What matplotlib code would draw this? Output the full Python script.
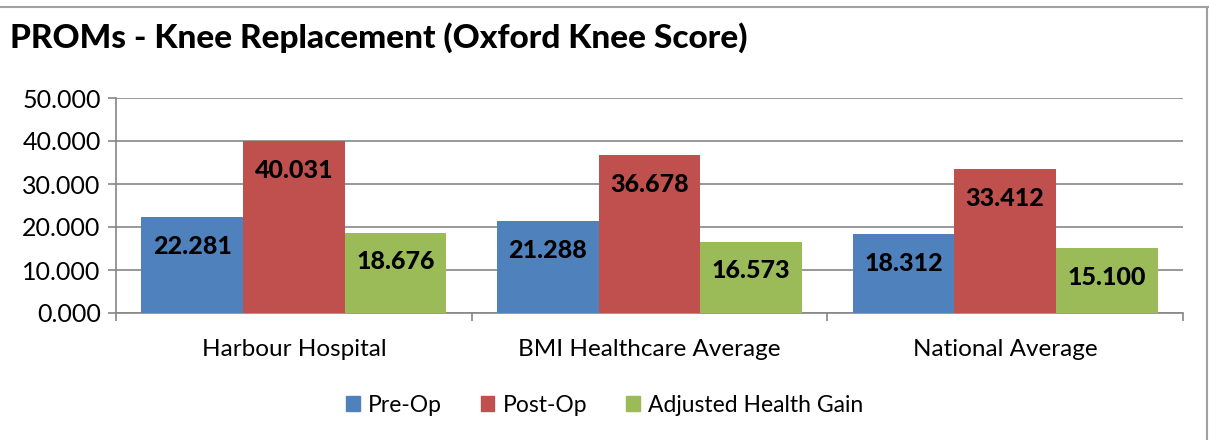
import matplotlib
matplotlib.use("Agg")
import matplotlib.pyplot as plt
import numpy as np
from matplotlib.lines import Line2D

categories = ["Harbour Hospital", "BMI Healthcare Average", "National Average"]
series_names = ["Pre-Op", "Post-Op", "Adjusted Health Gain"]
pre_op = [22.281, 21.288, 18.312]
post_op = [40.031, 36.678, 33.412]
health_gain = [18.676, 16.573, 15.100]
yticks = [0, 10, 20, 30, 40, 50]

colors = ["#4F81BD", "#C0504D", "#9BBB59"]
plt.rcParams['font.family'] = ['Lato', 'DejaVu Sans']

fig = plt.figure(figsize=(12.09, 4.40), dpi=100)
ax = fig.add_axes([116/1209, 1-313/440, (1183-116)/1209, (313-98)/440])

x = np.arange(len(categories))
w = 1/3.5
for i, (vals, name) in enumerate(zip([pre_op, post_op, health_gain], series_names)):
    pos = x + (i-1)*w
    ax.bar(pos, vals, width=w, color=colors[i], label=name, zorder=3)
    for p, v in zip(pos, vals):
        ax.annotate(f"{v:.3f}", (p, v), xytext=(0, -21), textcoords="offset points",
                    ha="center", va="center", fontsize=18, fontweight=900, color="black", zorder=4)

ax.set_xlim(-0.5, 2.5)
ax.set_ylim(0, 50)
ax.set_yticks(yticks)
ax.set_yticklabels([f"{t:.3f}" for t in yticks], fontsize=18)
ax.yaxis.grid(True, color="#868686", linewidth=1.2, zorder=0)
ax.set_xticks([-0.5, 0.5, 1.5, 2.5])
ax.set_xticklabels([])
ax.set_xticks(x, minor=True)
ax.set_xticklabels(categories, minor=True, fontsize=17.5)
ax.tick_params(axis='x', which='minor', length=0, pad=19)
ax.tick_params(axis='x', which='major', length=6, color="#868686", width=1.2)
ax.tick_params(axis='y', length=6, color="#868686", width=1.2, pad=5)
for s in ["top", "right"]:
    ax.spines[s].set_visible(False)
for s in ["left", "bottom"]:
    ax.spines[s].set_color("#868686")
    ax.spines[s].set_linewidth(1.2)

fig.text(10/1209, 1-38/440, "PROMs - Knee Replacement (Oxford Knee Score)",
         fontsize=24, fontweight=900, ha="left", va="center")

handles = [plt.Rectangle((0, 0), 1, 1, color=c) for c in colors]
fig.legend(handles, series_names, loc="center", bbox_to_anchor=(0.5, 1-405/440),
           ncol=3, frameon=False, fontsize=16.5, handlelength=0.6, handleheight=0.6,
           handletextpad=0.35, columnspacing=1.7)

fig.add_artist(Line2D([0, 1], [1-7/440, 1-7/440], color="#A0A0A0", linewidth=1.5, transform=fig.transFigure))
fig.add_artist(Line2D([1207/1209, 1207/1209], [0, 1-7/440], color="#A0A0A0", linewidth=1.5, transform=fig.transFigure))

fig.savefig("out.png", dpi=100)
